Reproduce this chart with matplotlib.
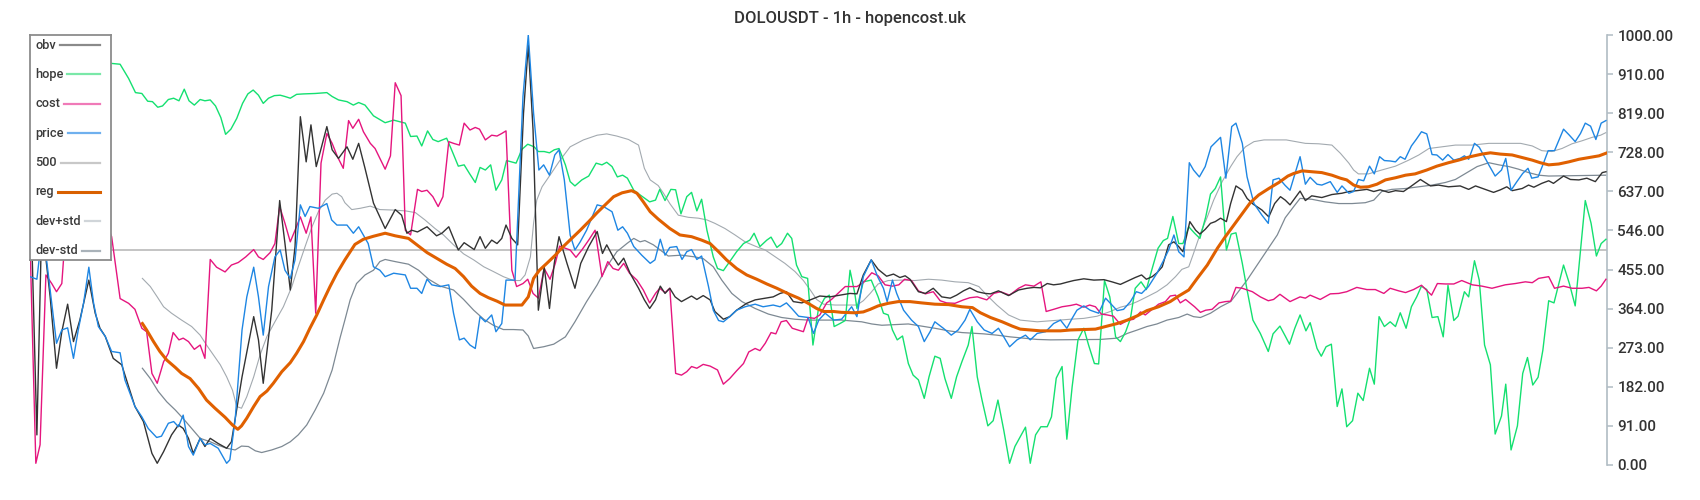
import matplotlib
matplotlib.use("Agg")
import matplotlib.pyplot as plt

plt.rcParams['font.family'] = ['Roboto', 'DejaVu Sans']

# hourly series as (hour, value) vertices
title = "DOLOUSDT - 1h - hopencost.uk"
level_500 = 500
yticklabels = ["0.00", "91.00", "182.00", "273.00", "364.00", "455.00",
               "546.00", "637.00", "728.00", "819.00", "910.00", "1000.00"]

price = [(0,438),(1.3,432),(2.2,530),(3,490),(4.1,376),(5,283),(6,314),(7.1,319),(8.2,248),(9.1,314),(10.1,376),(11.1,460),(12,376),(12.9,322),(14.2,299),(15.4,264),(17,261),(17.9,198),(19.8,136),(21.1,112),(22.3,85),(23.9,64),(24.8,67),(26.1,97),(27.1,101),(28,89),(28.9,116),(29.9,43),(30.8,23),(32.1,62),(33,47),(34,50),(35.5,39),(37.1,4),(37.7,12),(38.7,105),(40,314),(40.9,391),(42.2,460),(43.1,391),(44,302),(45,415),(46.2,484),(47.2,500),(48.1,453),(49.1,434),(50,477),(51,605),(51.9,578),(52.8,601),(54.4,597),(56,608),(56.9,570),(57.9,558),(59.8,558),(61,539),(62,554),(63.8,515),(64.8,461),(66,453),(67,438),(68.6,446),(70.8,442),(71.8,411),(73,411),(73.9,399),(74.9,432),(75.8,419),(77.4,415),(79,419),(79.9,353),(81,291),(81.9,295),(83,279),(84,271),(84.9,345),(85.9,333),(87.1,349),(87.9,310),(89,329),(89.8,430),(91.5,430),(93,857),(94,1000),(95,818),(96,686),(96.9,698),(98,674),(99,721),(99.8,733),(100.8,663),(101.9,535),(102.8,500),(103.8,519),(105,546),(107,605),(108.2,601),(109.8,589),(110.9,546),(111.8,554),(112.7,539),(113.9,508),(115.4,488),(117,469),(117.9,477),(118.9,525),(119.8,488),(120.7,506),(122,508),(123,478),(123.9,496),(124.8,501),(125.8,478),(126.7,486),(128,415),(128.9,360),(129.9,336),(130.8,333),(132,345),(133.3,360),(134.9,368),(136.8,374),(138.3,368),(140.2,372),(141.5,368),(142.7,377),(143.7,364),(145,346),(146.8,343),(147.8,306),(148.8,337),(150,353),(151.6,337),(153.1,339),(155,368),(156,345),(157.2,438),(158.7,477),(159.9,438),(161,411),(161.7,380),(162.7,430),(163.5,399),(164.8,360),(166.3,337),(167.6,322),(168.7,287),(169.8,310),(170.7,333),(172.3,318),(173.8,302),(175.1,314),(176.4,337),(177.3,362),(178.7,333),(180,314),(181.5,306),(182.7,318),(183.7,298),(184.8,275),(186.2,291),(187.8,302),(188.7,291),(190,306),(191.6,310),(193.1,329),(194.4,337),(195.6,318),(196.6,341),(197.5,360),(198.8,370),(200,360),(201.6,353),(202.9,388),(203.8,376),(205.1,359),(206.3,362),(207.6,380),(208.7,403),(209.7,399),(211,415),(212.6,446),(213.9,477),(214.8,500),(215.8,535),(216.7,496),(217.7,484),(218.7,703),(219.5,686),(220.6,670),(221.7,694),(222.8,740),(224.6,762),(225.6,667),(226.7,787),(227.5,795),(228.7,748),(229.6,670),(230.9,608),(232.4,581),(233.6,562),(234.5,663),(235.6,667),(236.8,650),(237.7,639),(239.6,717),(240.6,653),(241.5,669),(242.8,653),(243.7,651),(245.3,659),(246.6,634),(247.5,649),(248.8,632),(249.7,636),(250.6,664),(251.6,661),(252.7,695),(253.6,677),(254.6,717),(255.5,708),(256.6,707),(257.6,705),(258.5,717),(259.4,711),(260.6,742),(261.5,757),(262.5,775),(263.5,770),(264.5,722),(265.4,721),(266.5,709),(267.5,722),(268.6,709),(269.8,713),(270.6,719),(271.4,711),(272.5,748),(273.4,739),(275.2,698),(276.4,672),(277.6,686),(278.4,713),(279.4,639),(280.5,659),(281.6,678),(282.6,690),(283.3,667),(284.5,670),(285.4,698),(286.4,731),(287.6,731),(289.3,781),(290.4,767),(291.5,752),(292.5,771),(293.4,795),(294.4,788),(295.4,757),(296.4,795),(297.3,801)]

obv = [(0,680),(1.3,70),(2.2,560),(3,480),(3.8,391),(5,225),(6,310),(7.1,374),(8.2,287),(9.4,337),(11.1,430),(12.3,353),(13.2,318),(14.2,299),(15.7,248),(17.3,233),(18.2,198),(19.8,136),(21.4,101),(23,27),(24,4),(25.2,31),(26.7,70),(28,93),(28.9,85),(29.9,62),(30.8,27),(32.1,62),(33,43),(34,62),(35.5,50),(37.1,39),(38,54),(40,205),(42.2,345),(43.1,291),(44,190),(45.6,360),(47.1,615),(48.1,515),(49.1,407),(50,508),(51,810),(52.1,705),(53,791),(54,694),(55,740),(56,787),(57,733),(58.2,713),(59.8,740),(60.9,711),(62,748),(63.2,690),(64.8,609),(67,550),(68.9,594),(70.1,581),(71.1,539),(72,546),(73.1,542),(74.9,554),(76.7,533),(77.7,539),(79,554),(80.8,500),(81.9,517),(83.8,501),(84.9,531),(85.9,504),(87.1,523),(88.1,515),(89,527),(89.8,558),(90.9,527),(92,512),(93.1,818),(94,977),(94.9,779),(95.9,360),(97,461),(98,364),(98.9,469),(99.8,531),(101.3,469),(102.8,411),(103.9,469),(105.4,508),(107,543),(108,492),(108.8,512),(110,484),(111,465),(112,481),(113.2,446),(114.8,411),(115.9,384),(116.9,364),(118,384),(118.9,416),(119.8,399),(120.7,411),(121.7,391),(122.9,380),(124.8,393),(125.8,385),(127,394),(128.3,384),(129.2,357),(130.8,339),(132,345),(133.3,360),(135.2,376),(136.8,384),(138.7,388),(140.2,391),(141.5,399),(142.7,403),(144,380),(145.6,377),(147.2,384),(149,393),(150.9,391),(152.8,395),(154.7,399),(156,398),(157.2,442),(158.7,477),(160,455),(161.6,439),(162.9,444),(164.1,436),(165.1,440),(166,432),(167.6,403),(168.9,399),(170.4,411),(172,391),(173.6,388),(174.8,395),(176.1,405),(177.3,412),(178.7,403),(180.2,399),(181.2,398),(182.7,405),(184.6,394),(186.5,407),(188.1,411),(189.4,413),(190.6,412),(191.9,422),(193.1,419),(194.4,421),(195.6,425),(196.9,429),(198.8,433),(200.7,430),(202.6,431),(204.1,426),(205.7,420),(207.3,429),(208.5,436),(209.7,442),(210.6,432),(211.7,438),(212.6,447),(213.6,461),(214.8,512),(215.8,519),(216.7,508),(217.5,496),(218.8,566),(219.9,546),(220.7,537),(221.7,548),(222.7,562),(223.6,566),(224.6,574),(225.7,566),(226.5,608),(227.5,649),(228.7,639),(229.6,620),(230.7,607),(232.4,593),(233.7,577),(234.8,608),(235.9,624),(236.8,616),(237.7,605),(239.6,637),(240.6,615),(241.8,626),(243.7,622),(245.6,629),(247.5,632),(248.8,636),(250.3,638),(252.2,641),(253.5,636),(254.7,640),(256.3,634),(257.6,638),(259.1,636),(260.4,647),(262.3,664),(264.2,649),(265.7,651),(267.6,647),(269.8,649),(271.4,641),(272.7,649),(274.5,641),(276.1,634),(277.4,640),(278.6,647),(279.6,638),(281.5,643),(282.7,651),(283.7,646),(285.2,655),(286.5,661),(287.4,655),(289.3,672),(290.6,664),(292.2,663),(293.7,667),(295.3,659),(296.6,680),(297.3,682)]

cost = [(0,520),(1.1,4),(1.9,47),(3,442),(4.1,422),(5,403),(6,422),(6.8,560),(9,620),(12,640),(15.4,531),(17,387),(18.6,376),(19.8,362),(21.1,318),(22,310),(23,213),(24,190),(25.2,240),(26.1,260),(27,308),(28.1,291),(28.9,295),(29.9,287),(31,269),(32.1,279),(33,248),(34,478),(35.2,460),(36.8,449),(38,465),(39.3,471),(40.7,484),(42.2,501),(43.1,484),(44,478),(45.3,494),(46.2,515),(47.1,601),(48.1,562),(49.1,519),(50,546),(51,577),(52.1,539),(53,577),(53.9,353),(54.9,702),(56,771),(57,748),(58,717),(59.1,690),(60.1,801),(60.9,783),(62,804),(62.9,775),(64.2,748),(65.1,736),(67,688),(68,719),(68.9,889),(70,859),(70.8,546),(71.8,535),(73.1,641),(73.9,636),(74.9,639),(76,624),(77,601),(77.9,624),(79,752),(79.9,748),(81,744),(81.9,795),(83,779),(84,785),(84.8,781),(85.9,756),(87.1,767),(88.1,765),(89,771),(89.8,777),(90.9,453),(91.8,415),(93,422),(93.9,432),(94.9,399),(95.9,388),(97,457),(98.1,432),(99.1,469),(99.9,509),(101,504),(101.9,500),(103,483),(104.1,500),(105.4,523),(106.6,546),(107.9,438),(109,473),(110,457),(111,453),(112,469),(113.1,446),(114.5,430),(115.7,407),(116.9,377),(118,399),(118.8,411),(119.8,401),(120.7,411),(121.8,213),(122.9,209),(123.9,217),(124.8,229),(125.8,225),(127,234),(128.3,230),(129.7,221),(130.8,188),(132,201),(133.3,219),(134.6,236),(135.6,263),(136.8,271),(137.7,266),(138.7,283),(139.8,308),(140.7,305),(141.7,333),(142.7,336),(143.8,318),(145.9,310),(146.8,343),(148,341),(149,349),(150.3,377),(151.2,385),(152.4,399),(153.8,415),(156,415),(157.2,424),(158.8,447),(160,440),(161.3,419),(162.7,416),(163.9,419),(165,432),(166.3,429),(167.6,405),(168.9,398),(170.4,403),(171.7,382),(172.9,377),(174.5,376),(176.1,384),(177.3,389),(178.7,391),(180.5,384),(181.8,399),(183.1,403),(184.8,395),(186.5,411),(187.8,419),(189.4,416),(190.7,426),(191.7,357),(193.1,362),(194.7,368),(196.3,371),(197.4,374),(198.8,367),(199.9,372),(201,368),(202.1,351),(203.2,349),(204.4,346),(205.7,327),(207,336),(208.2,339),(209.5,356),(210.4,349),(211.7,362),(212.9,374),(214.2,380),(215.1,393),(216.1,395),(217,377),(218,385),(218.9,376),(219.7,368),(220.8,355),(221.8,360),(223,362),(224.3,377),(225.5,380),(226.5,381),(227.5,413),(228.7,411),(230.6,403),(232.1,391),(233.6,382),(234.6,385),(235.8,397),(236.8,388),(237.7,380),(239.6,391),(240.6,388),(241.5,395),(243.4,385),(245.3,398),(246.9,399),(248.4,403),(250.3,413),(252.2,408),(253.8,408),(255.4,399),(256.6,411),(258.2,405),(259.5,401),(261,408),(262.5,418),(264.4,395),(265.5,422),(267,421),(268.6,421),(270.1,429),(272.1,419),(273.9,416),(275.8,411),(278.3,419),(280.2,422),(282.1,426),(283.4,424),(284.6,434),(286.5,438),(287.6,411),(289.3,416),(290.9,411),(292.8,411),(294.1,413),(295.5,405),(296.4,416),(297.3,432)]

hope = [(0,955),(5,950),(10,942),(15.3,934),(17,932),(18.6,899),(19.9,866),(21.1,864),(22.2,846),(23.1,845),(24.1,832),(25,835),(26.1,850),(27.1,853),(28.1,847),(29.1,874),(30,847),(31,837),(32.1,850),(33,847),(34,849),(35,835),(36,808),(36.9,769),(37.9,781),(39,806),(40.1,841),(41.1,863),(42.1,872),(43.1,860),(44,841),(45,853),(46.1,859),(47.2,860),(48.1,857),(49.1,853),(50.3,862),(51.6,863),(53.8,864),(56,866),(57,857),(58.2,849),(59.8,845),(61,837),(62,843),(63.2,837),(64.8,812),(67,796),(68.6,802),(70.8,795),(71.8,764),(73,765),(73.9,742),(75,777),(76,757),(77,752),(78.6,760),(79.6,731),(80.8,695),(81.9,698),(82.9,678),(84,657),(84.9,692),(85.9,686),(86.9,698),(87.9,639),(89,663),(89.9,708),(91.7,702),(92.8,734),(93.9,746),(95.1,740),(95.9,729),(97,729),(98,726),(98.9,733),(99.8,736),(101,698),(101.9,659),(102.8,649),(104.1,663),(105.4,672),(106.8,702),(107.9,698),(108.8,704),(109.8,694),(110.8,670),(111.8,674),(112.7,667),(113.9,639),(115.1,628),(116.9,612),(118,616),(118.8,641),(119.8,615),(120.9,641),(121.8,640),(122.8,584),(123.9,624),(124.8,634),(125.8,591),(126.7,618),(127.7,546),(128.9,484),(129.7,457),(130.8,452),(132,473),(133.3,496),(134.6,515),(135.8,523),(136.6,539),(137.7,508),(139,523),(139.8,530),(140.9,506),(141.8,515),(142.9,539),(143.7,527),(144.6,465),(145.6,438),(146.7,434),(147.7,279),(148.7,360),(149.9,388),(150.8,395),(151.7,322),(152.8,329),(153.8,336),(154.7,453),(155.6,399),(156,364),(157.2,426),(158.7,430),(160,391),(161,353),(161.9,349),(162.7,314),(163.6,291),(164.6,300),(165.7,236),(166.6,209),(167.6,198),(168.7,155),(169.6,205),(170.7,253),(171.7,248),(172.6,201),(173.8,155),(174.8,205),(175.8,240),(177,279),(177.7,322),(178.7,205),(179.6,151),(180.7,91),(181.7,103),(182.6,151),(183.7,81),(184.8,4),(185.8,43),(187.8,88),(188.7,4),(189.7,70),(190.7,89),(191.9,89),(192.7,112),(193.6,202),(194.7,229),(195.6,60),(196.6,182),(197.7,291),(198.8,318),(199.7,279),(200.8,236),(201.6,235),(202.7,429),(203.7,391),(204.8,298),(205.7,287),(206.7,310),(207.6,341),(208.5,411),(209.6,426),(210.6,408),(211.7,457),(212.8,504),(213.8,522),(214.6,527),(215.6,578),(216.7,515),(217.5,515),(218.6,554),(219.7,539),(220.7,527),(221.8,577),(222.7,630),(223.6,643),(224.6,670),(225.7,500),(226.6,537),(227.5,540),(228.7,469),(229.6,407),(230.7,337),(232.1,306),(233.6,264),(234.5,305),(235.8,323),(236.8,300),(237.6,281),(238.6,318),(239.6,349),(240.7,312),(241.5,331),(242.8,271),(243.6,253),(244.5,275),(245.5,281),(246.6,136),(247.5,177),(248.4,89),(249.5,103),(250.5,167),(251.5,150),(252.7,225),(253.6,188),(254.5,345),(255.5,322),(256.6,333),(257.6,322),(258.5,354),(259.6,318),(260.6,368),(261.6,391),(262.5,416),(263.5,408),(264.5,343),(265.6,345),(266.6,298),(267.5,418),(268.6,336),(269.4,346),(270.6,403),(271.4,391),(272.5,475),(273.4,430),(274.4,279),(275.5,233),(276.4,72),(277.6,114),(278.4,188),(279.4,35),(280.6,91),(281.6,213),(282.5,250),(283.5,186),(284.5,204),(285.4,267),(286.5,382),(287.5,377),(289.3,465),(290.4,422),(291.5,370),(292.5,500),(293.4,615),(294.5,562),(295.5,486),(296.4,515),(297.3,525)]

reg = [(21.2,329),(22,314),(23.3,287),(24.5,264),(25.8,244),(27.4,227),(28.6,213),(30.2,201),(31.8,178),(33.3,151),(34.9,132),(36.8,111),(38.2,93),(39.2,83),(39.9,91),(40.9,109),(42.2,136),(43.4,159),(44.7,172),(45.9,190),(47.5,217),(49.1,238),(50.3,260),(51.6,287),(52.8,318),(54.1,349),(55.4,384),(56.6,415),(57.9,446),(59.4,477),(61.3,513),(62.9,525),(64.8,532),(67,539),(68.9,533),(71.4,527),(73,512),(74.9,494),(76.7,481),(78.6,467),(80.2,457),(81.8,438),(83.3,416),(84.9,399),(86.5,389),(88.1,381),(89.6,372),(91.2,372),(92.8,372),(94,391),(95,434),(96.1,453),(97.5,469),(99.1,488),(100.6,508),(102.2,527),(103.8,546),(105.4,566),(107,587),(108.5,605),(110.1,624),(111.7,633),(113.5,638),(114.5,632),(115.7,612),(117,589),(118.5,572),(120.7,550),(122.6,535),(124.8,531),(126.7,523),(128.3,515),(129.9,496),(131.4,477),(133.3,457),(135.2,442),(137.1,432),(139,421),(140.9,411),(143.1,398),(145,388),(146.8,376),(148.4,364),(149.7,357),(151.6,357),(153.1,355),(155.6,354),(157.2,356),(158.5,362),(160,370),(161.9,376),(163.8,380),(166,380),(168.2,377),(170.7,374),(173.3,373),(175.8,368),(177.8,366),(179.3,354),(181.2,343),(183.4,333),(185.3,323),(186.8,316),(188.7,314),(190.6,312),(194.4,312),(196.3,314),(198.8,315),(201,316),(202.9,322),(205.1,329),(207,337),(208.9,347),(210.7,359),(212.9,368),(215.1,380),(216.7,393),(218.6,407),(220.2,434),(222.1,465),(224,504),(225.5,531),(227.1,558),(228.7,585),(230.2,610),(231.8,628),(233.7,643),(235.6,657),(237.3,672),(238.4,678),(240,684),(241.8,682),(243.7,680),(245.6,674),(247.2,667),(248.4,663),(249.7,651),(251,646),(252.5,647),(254.1,653),(255.7,663),(257.6,668),(259.5,674),(261.3,677),(263.5,686),(265.4,695),(267.6,703),(269.5,709),(271.7,717),(273.9,723),(275.5,726),(277.4,723),(279.6,721),(281.5,715),(283.4,709),(284.9,703),(286.5,698),(288.4,700),(290.3,705),(292.2,711),(294.1,715),(296,719),(297.3,725)]

dev_plus = [(21.2,434),(22.7,415),(24,391),(25.2,368),(26.7,353),(28.6,337),(30.5,322),(32.1,302),(33.3,279),(34.6,256),(35.9,233),(37.1,205),(38.2,174),(39,136),(39.9,132),(40.9,159),(42.2,205),(43.4,256),(44.7,299),(46.2,333),(47.8,368),(49.4,415),(50.6,461),(51.9,508),(53.2,554),(54.4,589),(55.7,616),(57,630),(57.9,632),(58.8,624),(59.4,610),(60.7,594),(62.3,597),(64.2,602),(66,594),(68.3,593),(70.8,591),(72.7,587),(74.5,570),(76.4,550),(78,535),(79.9,512),(81.8,491),(83.7,477),(85.6,461),(87.4,450),(89.3,438),(91.2,429),(92.5,429),(93.4,442),(94.4,484),(95,562),(95.6,616),(96.6,647),(98.1,674),(100,709),(101.9,740),(104.4,756),(107,767),(108.8,770),(110.7,765),(112.9,757),(114.8,744),(115.9,690),(117,663),(118.5,650),(119.5,632),(120.7,608),(122.3,581),(124.2,576),(126.1,574),(127.7,570),(129.2,562),(131.1,550),(133,535),(134.9,519),(136.8,509),(138.7,500),(140.6,484),(142.4,469),(144.3,450),(145.9,429),(147.2,407),(148.4,385),(149.7,374),(151.9,372),(156,372),(157.2,382),(158.5,399),(160,421),(161.9,429),(164.4,430),(166.9,429),(169.5,432),(172,430),(174.5,426),(177,424),(179,415),(180.5,395),(182.4,372),(184.6,349),(186.8,337),(190,333),(193.1,336),(196.3,339),(198.8,341),(201.3,346),(203.8,357),(205.7,367),(207.3,372),(208.9,380),(210.7,391),(212.6,403),(214.5,419),(216.1,438),(217.3,455),(218.6,461),(219.5,492),(220.8,539),(222.1,577),(223.3,616),(224.9,659),(226.5,694),(227.7,717),(229.3,740),(230.9,752),(232.8,756),(237,756),(240.6,748),(243.1,747),(245.6,744),(247.2,725),(248.8,702),(249.7,686),(250.6,677),(252.5,677),(255,686),(257.6,695),(260.1,709),(262,721),(263.9,736),(266.4,740),(268.9,744),(272,744),(275.2,748),(281.2,748),(283.4,742),(285.2,731),(287.1,729),(289,736),(290.9,747),(292.8,754),(294.7,762),(296.3,767),(297.3,773)]

dev_minus = [(21.2,225),(22.7,201),(24.2,171),(25.8,147),(27.4,128),(28.9,108),(30.5,85),(32.1,62),(34,54),(35.5,46),(37.1,39),(38.7,35),(39.9,44),(41.2,43),(42.5,33),(43.7,29),(45.6,35),(47.5,43),(49.1,54),(50.6,70),(52.2,93),(53.8,128),(55.4,167),(57,221),(58.5,296),(59.4,337),(60.4,384),(61.6,422),(63.2,442),(64.8,453),(66,473),(67,478),(68.9,473),(71.4,467),(73.3,453),(75.2,432),(77.4,416),(79.9,407),(81.8,385),(83.7,360),(85.6,339),(87.4,325),(89.3,315),(91.2,315),(93,314),(94,300),(95,271),(96.9,275),(98.8,281),(101,298),(102.8,333),(105,380),(107,419),(108.8,461),(110.7,496),(112.6,515),(113.9,527),(115.1,519),(116,522),(117.6,512),(118.9,500),(120.4,486),(122.9,488),(125.4,484),(127,480),(128.9,461),(130.5,430),(132.4,399),(134.3,380),(136.8,364),(139.3,351),(141.8,343),(144.3,339),(146.8,337),(153.1,337),(156.9,333),(158.8,328),(160.7,325),(165.7,328),(168.2,323),(170.7,318),(173.3,312),(175.8,308),(179.9,305),(182.4,302),(184.9,298),(187.5,295),(190,292),(192.5,291),(201.9,292),(205.1,295),(207,306),(208.9,314),(210.7,322),(212.6,328),(214.5,337),(216.7,343),(218.3,351),(219.5,345),(220.8,343),(222.7,353),(224.6,368),(226.5,380),(227.7,399),(229.6,430),(231.5,465),(233.4,500),(235.3,535),(236.8,575),(238.4,601),(239.6,620),(241.8,618),(244.3,612),(246.9,608),(249.4,608),(251.9,610),(253.5,616),(255,636),(256.9,641),(259.5,643),(262,647),(264.5,651),(267,657),(268.9,664),(270.8,678),(273,694),(275.2,703),(277.1,698),(279,694),(280.8,688),(282.7,680),(284.6,674),(286.5,672),(297.3,674)]


def xy(pairs):
    return [p[0] for p in pairs], [p[1] for p in pairs]


fig = plt.figure(figsize=(17, 5), dpi=100)
ax = fig.add_axes([30/1700, 35/500, 1577/1700, 430/500])

ax.axhline(level_500, color='#c4c4c4', lw=1.4, zorder=1)
ax.plot(*xy(dev_plus), color='#a3aab0', lw=0.8, zorder=2)
ax.plot(*xy(dev_minus), color='#7d8993', lw=0.9, zorder=2)
ax.plot(*xy(hope), color='#14e070', lw=1.0, zorder=3)
ax.plot(*xy(cost), color='#e5157e', lw=1.0, zorder=3)
ax.plot(*xy(obv), color='#333333', lw=1.0, zorder=3)
ax.plot(*xy(price), color='#1e86e3', lw=1.0, zorder=4)
ax.plot(*xy(reg), color='#e06000', lw=2.2, zorder=5)

ax.set_xlim(0, 297.5)
ax.set_ylim(0, 1000)
ax.set_xticks([])
ax.yaxis.tick_right()
ax.set_yticks([k * 1000 / 11 for k in range(12)])
ax.set_yticklabels(yticklabels)
ax.tick_params(axis='y', colors='#b0bcc4', labelcolor='#333333', labelsize=11,
               length=4, width=1.1, pad=3.5)
for lbl in ax.get_yticklabels():
    lbl.set_fontweight('medium')
for s in ['left', 'top', 'bottom']:
    ax.spines[s].set_visible(False)
ax.spines['right'].set_color('#b0bcc4')
ax.spines['right'].set_linewidth(1.2)

fig.text(0.5, 1 - 19/500, title, ha='center', va='center', fontsize=12,
         fontweight='medium', color='#333333')

# legend box drawn by hand: labels left, line to the right
leg_labels = ['obv', 'hope', 'cost', 'price', '500', 'reg', 'dev+std', 'dev-std']
leg_colors = ['#8a8a8a', '#7ae8a8', '#f07ab8', '#6fb0ee', '#c8c8c8', '#d96000', '#d0d5d9', '#a9b2b9']
leg_widths = [1.6, 1.6, 1.6, 1.6, 1.6, 2.2, 1.6, 1.6]

lax = fig.add_axes([30/1700, 1 - 260/500, 81/1700, 225/500])
lax.set_xlim(0, 81)
lax.set_ylim(225, 0)
lax.set_xticks([])
lax.set_yticks([])
for s in lax.spines.values():
    s.set_color('#8c8c8c')
    s.set_linewidth(1.3)

renderer = fig.canvas.get_renderer()
for i, lab in enumerate(leg_labels):
    y = 10 + 29.4 * i
    t = lax.text(5, y, lab, ha='left', va='center', fontsize=9.2,
                 fontweight='medium', color='#3a3a3a')
    bb = t.get_window_extent(renderer=renderer)
    x_end = lax.transData.inverted().transform((bb.x1, bb.y0))[0]
    lax.plot([x_end + 4, 70], [y, y], color=leg_colors[i], lw=leg_widths[i])

fig.savefig('out.png', dpi=100)
